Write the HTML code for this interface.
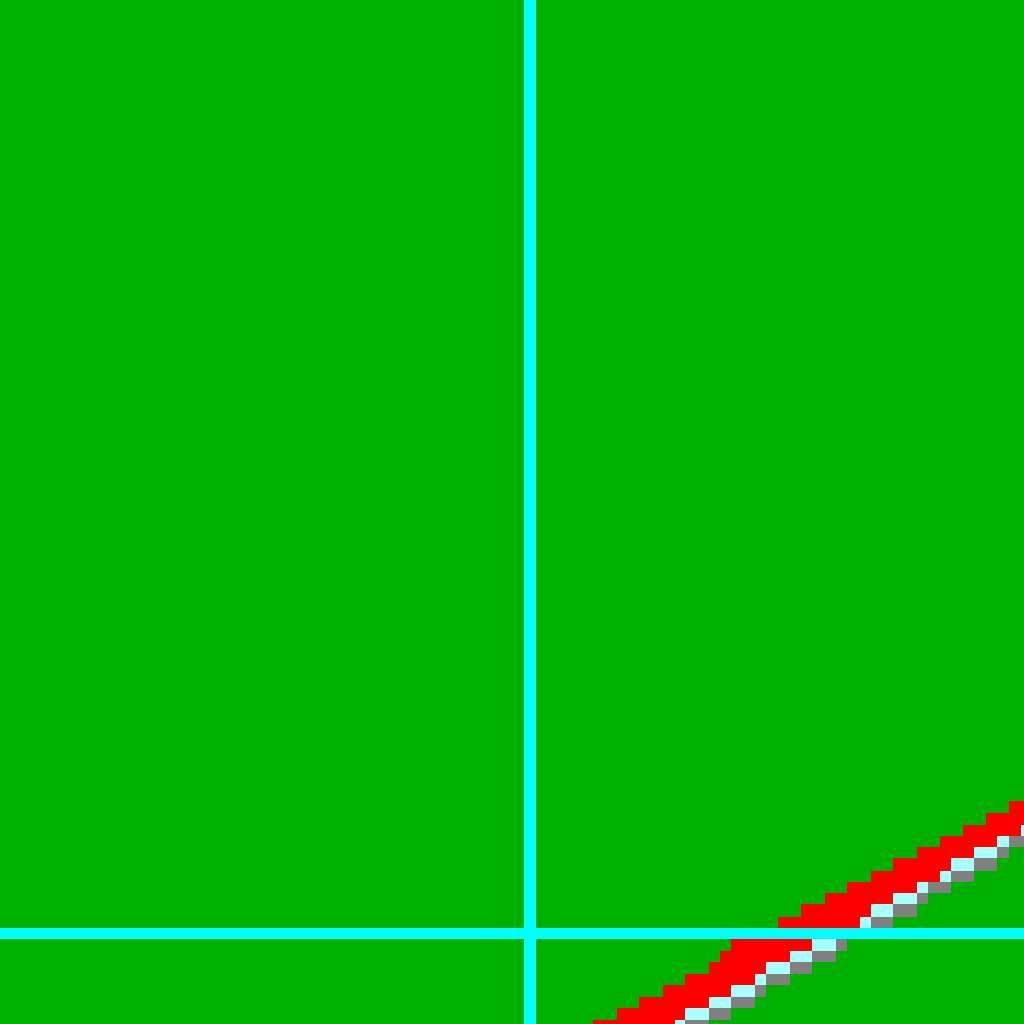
<!DOCTYPE html>
<html><head><meta charset="utf-8"><style>html,body{margin:0;padding:0;background:#00b000;}svg{display:block}</style></head>
<body>
<svg id="chart" width="1024" height="1024" viewBox="0 0 1024 1024" shape-rendering="crispEdges">
<rect x="0" y="0" width="1024" height="1024" fill="#00b000"/>
<g id="bands"></g>
<rect x="524" y="0" width="12" height="1024" fill="#00ffff"/>
<rect x="0" y="928" width="1024" height="11" fill="#00ffff"/>
</svg>
<script>
const rowTop =    [801,813,825,836,847,858,871,882,893,904,917,939,951,962,974,985,997,1008,1020];
const rowBottom = [813,825,836,847,858,871,882,893,904,917,928,951,962,974,985,997,1008,1020,1024];
const redStart =  [1009,986,963,940,917,893,871,847,825,801,778,731,720,709,685,663,639,617,593];
const cyanStart = [1024,1024,1021,997,974,951,940,917,893,871,860,812,790,766,755,731,709,685,675];
const grayStart = [1024,1024,1024,1009,997,974,951,928,917,893,871,836,812,790,766,755,731,709,685];
const grayEnd =   [1024,1024,1024,1024,1009,997,974,951,928,917,893,847,836,812,790,766,755,731,709];
const g = document.getElementById('bands');
const NS = 'http://www.w3.org/2000/svg';
function seg(x0, x1, y0, y1, color, name) {
  if (x1 <= x0) return;
  const r = document.createElementNS(NS, 'rect');
  r.setAttribute('x', x0); r.setAttribute('y', y0);
  r.setAttribute('width', x1 - x0); r.setAttribute('height', y1 - y0);
  r.setAttribute('fill', color);
  
  
  g.appendChild(r);
}
for (let i = 0; i < rowTop.length; i++) {
  seg(redStart[i], cyanStart[i], rowTop[i], rowBottom[i], '#ff0000', 'red-band-row');
  seg(cyanStart[i], grayStart[i], rowTop[i], rowBottom[i], '#aaffff', 'light-cyan-band-row');
  seg(grayStart[i], grayEnd[i], rowTop[i], rowBottom[i], '#808080', 'gray-band-row');
}
</script>
</body></html>
